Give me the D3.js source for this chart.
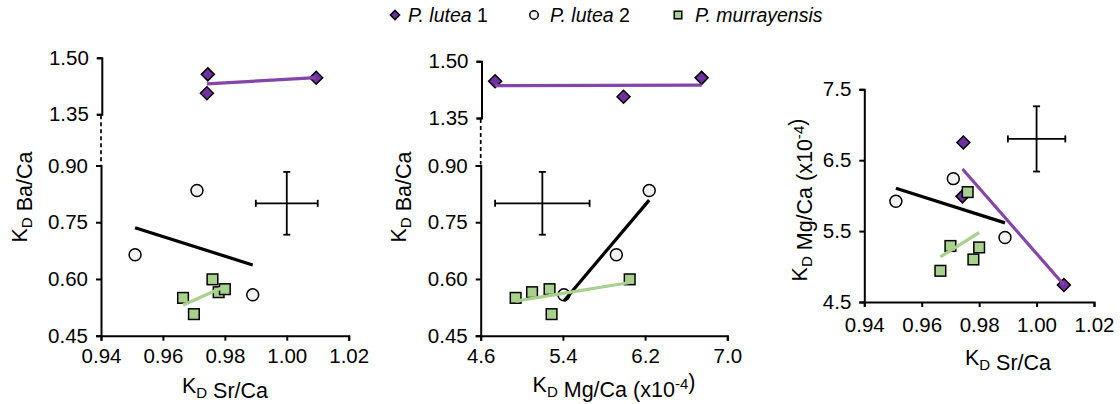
<!DOCTYPE html>
<html><head><meta charset="utf-8">
<script src="https://cdn.jsdelivr.net/npm/d3@7/dist/d3.min.js"></script>
<style>
body{margin:0;background:#fff;}
svg{display:block;font-family:"Liberation Sans",Arial,sans-serif;}
</style></head>
<body><svg id="c" width="1120" height="404"></svg>
<script>
// ---- data ----
const seriesNames = ["P. lutea 1", "P. lutea 2", "P. murrayensis"];
// P. lutea 1 (diamonds)
const lutea1Sr = [0.9745, 0.9742, 1.0095];
const lutea1Ba = [1.456, 1.406, 1.447];
const lutea1Mg = [6.75, 5.99, 4.74];
// P. lutea 2 (circles)
const lutea2Sr = [0.951, 0.971, 0.989];
const lutea2Ba = [0.664, 0.834, 0.558];
const lutea2Mg = [5.92, 6.24, 5.41];
// P. murrayensis (squares)
const murrSr = [0.9665, 0.970, 0.976, 0.978, 0.980];
const murrBa = [0.550, 0.507, 0.599, 0.565, 0.573];
const murrMg = [4.94, 5.29, 6.05, 5.10, 5.27];
// error crosses: [x, ±x, y, ±y]
const crossSrBa = [1.00, 0.01, 0.80, 0.083];
const crossMgBa = [5.20, 0.46, 0.80, 0.083];
const crossSrMg = [1.00, 0.01, 6.80, 0.46];
// axis ticks
const srTicks = [0.94, 0.96, 0.98, 1.00, 1.02];
const mgTicksX = [4.6, 5.4, 6.2, 7.0];
const baTicksUpper = [1.35, 1.50];
const baTicksLower = [0.45, 0.60, 0.75, 0.90];
const mgTicksY = [4.5, 5.5, 6.5, 7.5];

// ---- styles ----
const PURPLE = "#7030A0", PURPLE_LINE = "#8444A8";
const GREEN = "#A9D18E", GREEN_LINE = "#A9D18E";
const CIRCLE_FILL = "#F2F2F2";
const TICK_FS = 20.5, TITLE_FS = 21.5, LEGEND_FS = 19.5;

const svg = d3.select("#c");

function regress(xs, ys) {
  const n = xs.length, mx = d3.mean(xs), my = d3.mean(ys);
  let sxy = 0, sxx = 0;
  for (let i = 0; i < n; i++) { sxy += (xs[i]-mx)*(ys[i]-my); sxx += (xs[i]-mx)**2; }
  const b = sxy / sxx, a = my - b*mx;
  const x0 = d3.min(xs), x1 = d3.max(xs);
  return [[x0, a + b*x0], [x1, a + b*x1]];
}

function styleAxis(g, fs) {
  g.selectAll("path.domain").attr("stroke", "#000").attr("stroke-width", 2);
  g.selectAll(".tick line").attr("stroke", "#000").attr("stroke-width", 2);
  g.selectAll(".tick text").attr("fill", "#000").attr("font-size", fs)
    .attr("font-family", "'Liberation Sans', Arial, sans-serif");
}

function marker(g, type, x, y, s) {
  if (type === 0) {
    const r = s;
    g.append("path").attr("d", `M${x},${y-r}L${x+r},${y}L${x},${y+r}L${x-r},${y}Z`)
      .attr("fill", PURPLE).attr("stroke", "#000").attr("stroke-width", 1.5);
  } else if (type === 1) {
    g.append("circle").attr("cx", x).attr("cy", y).attr("r", s*0.92)
      .attr("fill", CIRCLE_FILL).attr("stroke", "#000").attr("stroke-width", 1.5);
  } else {
    const h = s*0.82;
    g.append("rect").attr("x", x-h).attr("y", y-h).attr("width", 2*h).attr("height", 2*h)
      .attr("fill", GREEN).attr("stroke", "#000").attr("stroke-width", 1.5);
  }
}

function cross(g, xs, ys, c) {
  const [cx, dx, cy, dy] = c;
  const st = l => l.attr("stroke", "#000").attr("stroke-width", 1.8);
  st(g.append("line").attr("x1", xs(cx-dx)).attr("x2", xs(cx+dx)).attr("y1", ys(cy)).attr("y2", ys(cy)));
  st(g.append("line").attr("x1", xs(cx)).attr("x2", xs(cx)).attr("y1", ys(cy-dy)).attr("y2", ys(cy+dy)));
  const k = 3.5;
  [cx-dx, cx+dx].forEach(v => st(g.append("line").attr("x1", xs(v)).attr("x2", xs(v)).attr("y1", ys(cy)-k).attr("y2", ys(cy)+k)));
  [cy-dy, cy+dy].forEach(v => st(g.append("line").attr("x1", xs(cx)-k).attr("x2", xs(cx)+k).attr("y1", ys(v)).attr("y2", ys(v))));
}

function trend(g, xs, pts, color, yfn) {
  const l = regress(pts[0], pts[1]);
  g.append("line").attr("x1", xs(l[0][0])).attr("y1", yfn(l[0][1]))
    .attr("x2", xs(l[1][0])).attr("y2", yfn(l[1][1]))
    .attr("stroke", color).attr("stroke-width", 3.2);
}

function subTitle(g, parts, x, y, rotate, fs) {
  const t = g.append("text").attr("font-size", fs).attr("fill", "#000")
    .attr("text-anchor", "middle")
    .attr("transform", rotate ? `translate(${x},${y}) rotate(-90)` : `translate(${x},${y})`);
  parts.forEach(p => {
    if (p.sub) {
      t.append("tspan").attr("font-size", fs*0.7).attr("dy", fs*0.25).text(p.t);
      t.append("tspan").attr("dy", -fs*0.25).text("");
    } else if (p.sup) {
      t.append("tspan").attr("font-size", fs*0.7).attr("dy", -fs*0.38).text(p.t);
      t.append("tspan").attr("dy", fs*0.38).text("");
    } else t.append("tspan").text(p.t);
  });
}

// ---------- Panel with broken Ba axis ----------
function baPanel(cfg) {
  const g = svg.append("g");
  const xs = d3.scaleLinear().domain(cfg.xDomain).range([cfg.x0, cfg.x1]);
  const yLo = d3.scaleLinear().domain([0.45, 0.90]).range(cfg.yLo);
  const yUp = d3.scaleLinear().domain([1.35, 1.50]).range(cfg.yUp);
  const yBa = v => v >= 1.2 ? yUp(v) : yLo(v);

  const axU = g.append("g").attr("transform", `translate(${cfg.x0 + 0.8},0)`)
    .call(d3.axisLeft(yUp).tickValues(baTicksUpper).tickFormat(d3.format(".2f")).tickSizeOuter(0).tickSize(5).tickPadding(cfg.yPad));
  styleAxis(axU, TICK_FS);
  const axL = g.append("g").attr("transform", `translate(${cfg.x0},0)`)
    .call(d3.axisLeft(yLo).tickValues(baTicksLower).tickFormat(d3.format(".2f")).tickSizeOuter(0).tickSize(5).tickPadding(cfg.yPad));
  styleAxis(axL, TICK_FS);
  g.append("line").attr("x1", cfg.x0).attr("x2", cfg.x0).attr("y1", yUp(1.35) + 1).attr("y2", yLo(0.90) - 1)
    .attr("stroke", "#000").attr("stroke-width", 1.7).attr("stroke-dasharray", "4,3");
  const axX = g.append("g").attr("transform", `translate(0,${yLo(0.45)})`)
    .call(d3.axisBottom(xs).tickValues(cfg.xTicks).tickFormat(d3.format(cfg.xFmt)).tickSizeOuter(0).tickSize(5).tickPadding(cfg.xPad));
  styleAxis(axX, TICK_FS);

  cross(g, xs, yLo, cfg.cross);

  cfg.l1x.forEach((v, i) => marker(g, 0, xs(v), yBa(lutea1Ba[i]), 6.5));
  cfg.l2x.forEach((v, i) => marker(g, 1, xs(v), yBa(lutea2Ba[i]), 6.5));
  cfg.mx.forEach((v, i) => marker(g, 2, xs(v), yBa(murrBa[i]), 6.5));

  trend(g, xs, [cfg.l1x, lutea1Ba], PURPLE_LINE, yBa);
  trend(g, xs, [cfg.l2x, lutea2Ba], "#000", yBa);
  trend(g, xs, [cfg.mx, murrBa], GREEN_LINE, yBa);

  subTitle(g, cfg.xTitle, cfg.xTitleX, cfg.xTitleY, false, TITLE_FS);
  subTitle(g, [{t:"K"},{t:"D", sub:true},{t:" Ba/Ca"}], cfg.yTitleX, cfg.yTitleY, true, TITLE_FS);
}

baPanel({
  xDomain: [0.94, 1.02], x0: 101, x1: 348.7, yLo: [335.7, 165.5], yUp: [114.3, 57.8],
  xTicks: srTicks, xFmt: ".2f", xPad: 7.5, yPad: 8,
  l1x: lutea1Sr, l2x: lutea2Sr, mx: murrSr, cross: crossSrBa,
  xTitle: [{t:"K"},{t:"D", sub:true},{t:" Sr/Ca"}], xTitleX: 225, xTitleY: 393,
  yTitleX: 26.5, yTitleY: 197
});
baPanel({
  xDomain: [4.6, 7.0], x0: 480.7, x1: 727.3, yLo: [335.7, 165.5], yUp: [118, 61.2],
  xTicks: mgTicksX, xFmt: ".1f", xPad: 7.5, yPad: 8,
  l1x: lutea1Mg, l2x: lutea2Mg, mx: murrMg, cross: crossMgBa,
  xTitle: [{t:"K"},{t:"D", sub:true},{t:" Mg/Ca (x10"},{t:"-4", sup:true},{t:")"}], xTitleX: 614, xTitleY: 392,
  yTitleX: 406, yTitleY: 197
});

// ---------- Panel 3: Mg vs Sr ----------
(function () {
  const g = svg.append("g");
  const x0 = 864.3, x1 = 1094, yb = 302, yt = 89.3;
  const xs = d3.scaleLinear().domain([0.94, 1.02]).range([x0, x1]);
  const ys = d3.scaleLinear().domain([4.5, 7.5]).range([yb, yt]);
  const ay = g.append("g").attr("transform", `translate(${x0},0)`)
    .call(d3.axisLeft(ys).tickValues(mgTicksY).tickFormat(d3.format(".1f")).tickSizeOuter(0).tickSize(5).tickPadding(8));
  styleAxis(ay, TICK_FS);
  const ax = g.append("g").attr("transform", `translate(0,${yb})`)
    .call(d3.axisBottom(xs).tickValues(srTicks).tickFormat(d3.format(".2f")).tickSizeOuter(0).tickSize(5).tickPadding(10));
  styleAxis(ax, TICK_FS);

  cross(g, xs, ys, crossSrMg);

  lutea1Sr.forEach((v, i) => marker(g, 0, xs(v), ys(lutea1Mg[i]), 6.5));
  lutea2Sr.forEach((v, i) => marker(g, 1, xs(v), ys(lutea2Mg[i]), 6.5));
  murrSr.forEach((v, i) => marker(g, 2, xs(v), ys(murrMg[i]), 6.5));

  trend(g, xs, [lutea1Sr, lutea1Mg], PURPLE_LINE, ys);
  trend(g, xs, [lutea2Sr, lutea2Mg], "#000", ys);
  trend(g, xs, [murrSr, murrMg], GREEN_LINE, ys);

  subTitle(g, [{t:"K"},{t:"D", sub:true},{t:" Sr/Ca"}], 1008, 365, false, TITLE_FS);
  subTitle(g, [{t:"K"},{t:"D", sub:true},{t:" Mg/Ca (x10"},{t:"-4", sup:true},{t:")"}], 807, 200, true, TITLE_FS);
})();

// ---------- Legend ----------
(function () {
  const g = svg.append("g");
  const lx = [395, 534, 678], tx = [408, 550, 695];
  const ly = 15;
  seriesNames.forEach((name, i) => {
    marker(g, i, lx[i], ly, 4.6);
    const t = g.append("text").attr("x", tx[i]).attr("y", ly + 7).attr("font-size", LEGEND_FS).attr("fill", "#000");
    const m = name.match(/^(P\. \w+)(.*)$/);
    t.append("tspan").attr("font-style", "italic").text(m[1]);
    t.append("tspan").text(m[2]);
  });
})();
</script></body></html>
